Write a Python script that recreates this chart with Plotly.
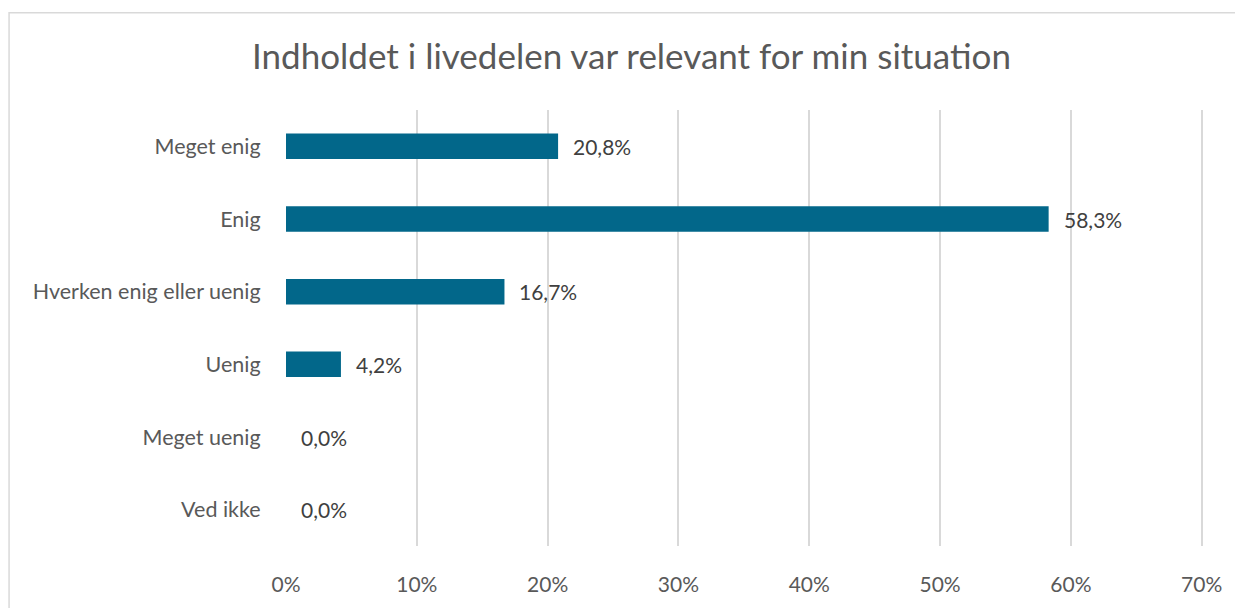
import plotly.graph_objects as go

categories = ["Meget enig", "Enig", "Hverken enig eller uenig", "Uenig", "Meget uenig", "Ved ikke"]
values = [20.8, 58.3, 16.7, 4.2, 0.0, 0.0]
tick_vals = [0, 10, 20, 30, 40, 50, 60, 70]
tick_text = [f"{v}%" for v in tick_vals]
labels = [f"{v:.1f}%".replace(".", ",") for v in values]

FONT = "Lato, Open Sans, sans-serif"
GRAY = "#595959"

fig = go.Figure(go.Bar(
    y=categories, x=values, orientation="h",
    marker=dict(color="#02678A", line=dict(width=0)),
    width=0.35,
    hoverinfo="skip",
))

for cat, val, lab in zip(categories, values, labels):
    fig.add_annotation(x=val, y=cat, text=lab, showarrow=False,
                       xanchor="left", yanchor="middle", xshift=13,
                       font=dict(size=21, color="#404040", family=FONT))

fig.update_layout(
    width=1235, height=600,
    margin=dict(l=278, r=40, t=102, b=54),
    paper_bgcolor="white", plot_bgcolor="white",
    title=dict(text="Indholdet i livedelen var relevant for min situation",
               x=(631.5 - 8) / 1235, xref="container", xanchor="center",
               y=1 - 49 / 600, yref="container", yanchor="middle",
               font=dict(size=35, color=GRAY, family=FONT)),
    showlegend=False,
    font=dict(family=FONT, color=GRAY),
    xaxis=dict(range=[0, 70.1], tickvals=tick_vals, ticktext=tick_text,
               showgrid=True, gridcolor="#d9d9d9", gridwidth=1.5,
               zeroline=False, showline=False,
               ticks="outside", ticklen=20, tickcolor="rgba(0,0,0,0)",
               tickfont=dict(size=21, color=GRAY)),
    yaxis=dict(categoryorder="array", categoryarray=categories[::-1],
               showgrid=False, zeroline=False, showline=False,
               ticks="outside", ticklen=20, tickcolor="rgba(0,0,0,0)",
               tickfont=dict(size=21.5, color=GRAY)),
    shapes=[dict(type="rect", xref="paper", yref="paper",
                 x0=-0.302, x1=1.06, y0=-0.2, y1=1.223,
                 line=dict(color="#d9d9d9", width=1.5), fillcolor="rgba(0,0,0,0)",
                 layer="below")],
)

fig.write_html("out.html")
